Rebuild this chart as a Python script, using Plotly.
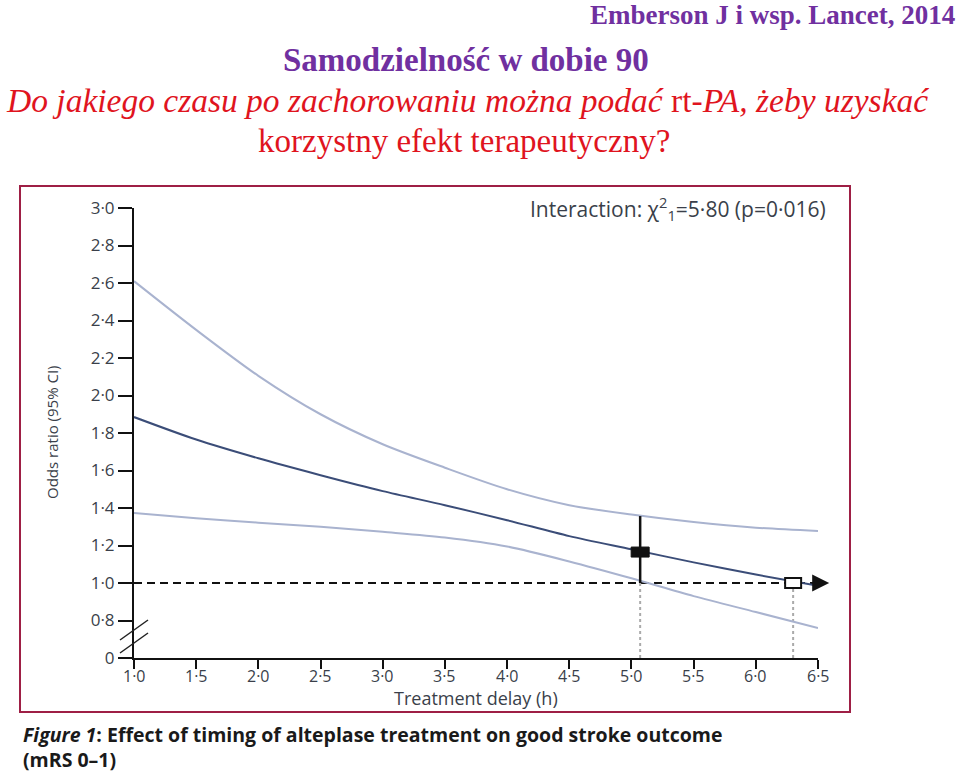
import plotly.graph_objects as go

# ---------------- data ----------------
delay_h = [1.0, 1.5, 2.0, 2.5, 3.0, 3.5, 4.0, 4.5, 5.0, 5.5, 6.0, 6.5]
or_center = [1.885, 1.765, 1.665, 1.575, 1.49, 1.415, 1.335, 1.25, 1.18, 1.11, 1.045, 0.985]
or_upper = [2.61, 2.35, 2.105, 1.90, 1.74, 1.615, 1.50, 1.415, 1.365, 1.325, 1.295, 1.277]
or_lower = [1.373, 1.345, 1.322, 1.30, 1.273, 1.243, 1.195, 1.115, 1.025, 0.93, 0.845, 0.76]

mean_delay = 5.07          # mean treatment delay (filled marker)
mean_or = 1.165
mean_ci = [1.0, 1.357]
null_cross_delay = 6.3     # where the estimate crosses OR = 1 (open marker)
null_or = 1.0

x_ticks = [1.0, 1.5, 2.0, 2.5, 3.0, 3.5, 4.0, 4.5, 5.0, 5.5, 6.0, 6.5]
x_ticktext = ["1·0", "1·5", "2·0", "2·5", "3·0", "3·5", "4·0", "4·5", "5·0", "5·5", "6·0", "6·5"]
y_ticks = [0.6, 0.8, 1.0, 1.2, 1.4, 1.6, 1.8, 2.0, 2.2, 2.4, 2.6, 2.8, 3.0]
y_ticktext = ["0", "0·8", "1·0", "1·2", "1·4", "1·6", "1·8", "2·0", "2·2", "2·4", "2·6", "2·8", "3·0"]

# ---------------- layout helpers ----------------
L, R, T, B = 134, 818, 208, 658
W, H = R - L, B - T


def fx(px):
    return (px - L) / W


def fy(py):
    return (B - py) / H


SANS = "Open Sans, Lato, sans-serif"
SERIF = "Liberation Serif, Times New Roman, serif"
CI_COL = "#a9b3cf"
MID_COL = "#3b4d78"
TXT_COL = "#3a3f4a"

fig = go.Figure()

# reference line at OR = 1 (dashed)
fig.add_trace(go.Scatter(x=[delay_h[0], 6.46], y=[null_or, null_or], mode="lines",
                         line=dict(color="#111111", width=2, dash="8px,5px"),
                         hoverinfo="skip", showlegend=False))

# dotted drop lines
for xv in [mean_delay, null_cross_delay]:
    fig.add_trace(go.Scatter(x=[xv, xv], y=[y_ticks[0], null_or], mode="lines",
                             line=dict(color="#aaaaaa", width=2, dash="3px,3px"),
                             hoverinfo="skip", showlegend=False, cliponaxis=False))

# CI curves and estimate
for ys, col in [(or_upper, CI_COL), (or_lower, CI_COL), (or_center, MID_COL)]:
    fig.add_trace(go.Scatter(x=delay_h, y=ys, mode="lines",
                             line=dict(color=col, width=2, shape="spline", smoothing=0.8),
                             showlegend=False))

# CI bar at mean delay
fig.add_trace(go.Scatter(x=[mean_delay, mean_delay], y=mean_ci, mode="lines",
                         line=dict(color="#111111", width=2.5), showlegend=False))

shapes = []
# filled marker
shapes.append(dict(type="rect", xref="x", yref="y", xsizemode="pixel", ysizemode="pixel",
                   xanchor=mean_delay, yanchor=mean_or, x0=-9, x1=9, y0=-5, y1=5,
                   fillcolor="#111111", line=dict(color="#111111", width=1)))
# open marker
shapes.append(dict(type="rect", xref="x", yref="y", xsizemode="pixel", ysizemode="pixel",
                   xanchor=null_cross_delay, yanchor=null_or, x0=-8, x1=8, y0=-5, y1=5,
                   fillcolor="white", line=dict(color="#111111", width=2)))
# axis break marks
shapes.append(dict(type="line", xref="paper", yref="paper", x0=fx(120), y0=fy(640), x1=fx(148), y1=fy(620),
                   line=dict(color="#222222", width=1.5)))
shapes.append(dict(type="line", xref="paper", yref="paper", x0=fx(120), y0=fy(653), x1=fx(148), y1=fy(633),
                   line=dict(color="#222222", width=1.5)))
# frame
shapes.append(dict(type="rect", xref="paper", yref="paper", x0=fx(20), y0=fy(186), x1=fx(850), y1=fy(712),
                   line=dict(color="#9e1f45", width=2), fillcolor="rgba(0,0,0,0)", layer="below"))

annotations = [
    # arrow head on the reference line
    dict(x=6.59, y=null_or, ax=6.45, ay=null_or, xref="x", yref="y", axref="x", ayref="y",
         showarrow=True, arrowhead=2, arrowsize=1.7, arrowwidth=2, arrowcolor="#111111", text=""),
    dict(x=fx(828), y=fy(208), xref="paper", yref="paper", xanchor="right", yanchor="middle",
         text="Interaction: χ<sup>2</sup><sub>1</sub>=5·80 (p=0·016)", showarrow=False,
         font=dict(family=SANS, size=21, color=TXT_COL)),
    dict(x=fx(52), y=fy(432), xref="paper", yref="paper", xanchor="center", yanchor="middle",
         text="Odds ratio (95% CI)", textangle=-90, showarrow=False,
         font=dict(family=SANS, size=15, color=TXT_COL)),
    dict(x=fx(476), y=fy(698), xref="paper", yref="paper", xanchor="center", yanchor="middle",
         text="Treatment delay (h)", showarrow=False,
         font=dict(family=SANS, size=18, color=TXT_COL)),
    # headings
    dict(x=fx(957), y=fy(15), xref="paper", yref="paper", xanchor="right", yanchor="middle",
         text="<b>Emberson J i wsp. Lancet, 2014</b>", showarrow=False,
         font=dict(family=SERIF, size=27, color="#7030a0")),
    dict(x=fx(466), y=fy(60), xref="paper", yref="paper", xanchor="center", yanchor="middle",
         text="<b>Samodzielność w dobie 90</b>", showarrow=False,
         font=dict(family=SERIF, size=33, color="#7030a0")),
    dict(x=fx(467), y=fy(101), xref="paper", yref="paper", xanchor="center", yanchor="middle",
         text="<i>Do jakiego czasu po zachorowaniu można podać </i>rt-<i>PA, żeby uzyskać</i>",
         showarrow=False, font=dict(family=SERIF, size=33.5, color="#e0141e")),
    dict(x=fx(464), y=fy(141), xref="paper", yref="paper", xanchor="center", yanchor="middle",
         text="korzystny efekt terapeutyczny?", showarrow=False,
         font=dict(family=SERIF, size=33, color="#e0141e")),
    # caption (two lines)
    dict(x=fx(21), y=fy(747), xref="paper", yref="paper", xanchor="left", yanchor="middle", align="left",
         text="<b><i>Figure 1</i>: Effect of timing of alteplase treatment on good stroke outcome<br>(mRS 0–1)</b>",
         showarrow=False, font=dict(family=SANS, size=19.5, color="#1a1a1a")),
]

# x tick labels placed close under the tick marks
for xv, lab in zip(x_ticks, x_ticktext):
    annotations.append(dict(x=xv, y=fy(676), xref="x", yref="paper", xanchor="center", yanchor="middle",
                            text=lab, showarrow=False, font=dict(family=SANS, size=16, color=TXT_COL)))

fig.update_layout(
    width=960, height=772,
    margin=dict(l=L, r=960 - R, t=T, b=772 - B, pad=0),
    paper_bgcolor="white", plot_bgcolor="white",
    shapes=shapes, annotations=annotations, showlegend=False,
    xaxis=dict(range=[1.0, 6.5], tickvals=x_ticks, showticklabels=False, showgrid=False, zeroline=False,
               showline=True, linecolor="#111111", linewidth=2, ticks="outside", ticklen=9, tickwidth=2,
               tickcolor="#111111"),
    yaxis=dict(range=[0.6, 3.0], tickvals=y_ticks, ticktext=y_ticktext, showgrid=False, zeroline=False,
               showline=True, linecolor="#111111", linewidth=2, ticks="outside", ticklen=14, tickwidth=2,
               tickcolor="#111111",
               tickfont=dict(family=SANS, size=17, color=TXT_COL)),
)

fig.write_html("out.html")
